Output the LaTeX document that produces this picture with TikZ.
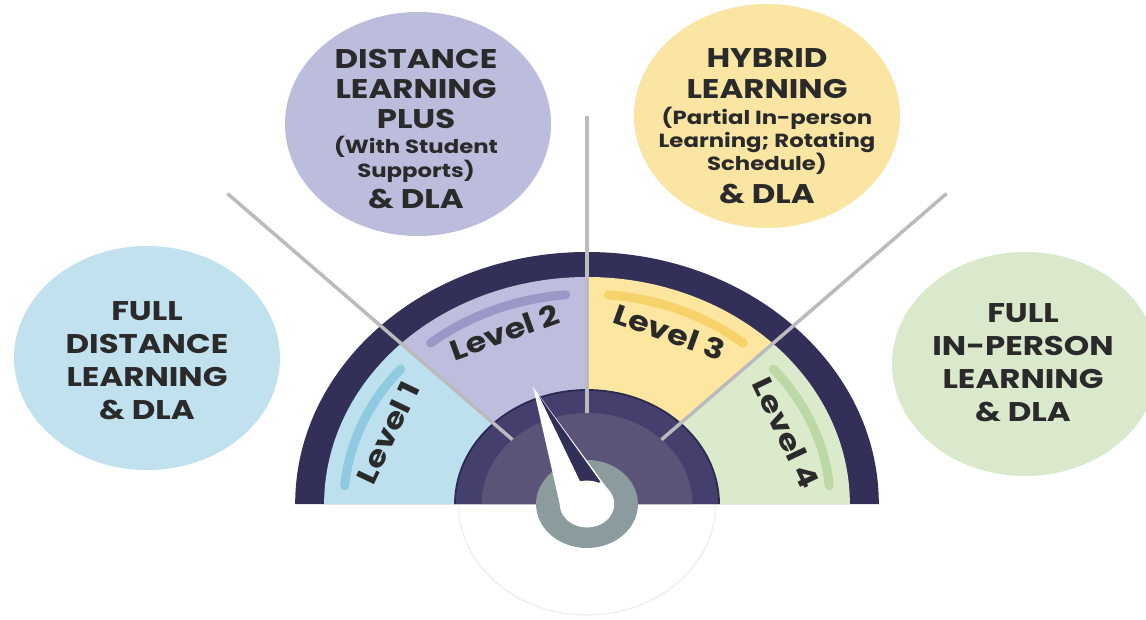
\documentclass[tikz,border=0pt]{standalone}
\usepackage{fontspec}
\setmainfont{Poppins}[FakeStretch=1.2]
\usetikzlibrary{calc}

\definecolor{band}{HTML}{322F59}
\definecolor{rim}{HTML}{443F6C}
\definecolor{rimedge}{HTML}{2C2953}
\definecolor{core}{HTML}{5C5379}
\definecolor{hub}{HTML}{8C9C9E}
\definecolor{linkgray}{HTML}{BBBBBD}
\definecolor{txtdark}{HTML}{2A2A2A}
\definecolor{fill1}{HTML}{BDE0EF}
\definecolor{fill2}{HTML}{BDBDDE}
\definecolor{fill3}{HTML}{FCE6A0}
\definecolor{fill4}{HTML}{DAEACB}
\definecolor{stripe1}{HTML}{8FCAE0}
\definecolor{stripe2}{HTML}{9B98C8}
\definecolor{stripe3}{HTML}{F6D36A}
\definecolor{stripe4}{HTML}{BCD8A5}
\definecolor{bubbleA}{HTML}{C2E1EF}
\definecolor{bubbleB}{HTML}{BCBCDC}
\definecolor{bubbleC}{HTML}{FAE5A2}
\definecolor{bubbleD}{HTML}{DAE9CC}

\newcommand{\bubblebig}{\fontsize{27}{31}\selectfont\bfseries}
\newcommand{\bubblesmall}{\fontsize{19}{22}\selectfont\bfseries}

\begin{document}
\begin{tikzpicture}[x=1pt,y=1pt,
    bubble/.style={font=\bubblebig, text=txtdark, align=center, inner sep=0pt},
    levellabel/.style={font=\fontsize{28}{30}\selectfont\bfseries, text=txtdark},
    link/.style={draw=linkgray, line width=3.5pt}]
  \useasboundingbox[fill=white] (0,0) rectangle (1146,619);

  % the four learning models
  \fill[bubbleA] (147,261) ellipse (133 and 112);
  \fill[bubbleB] (418,495) ellipse (133 and 112);
  \fill[bubbleC] (767,503) ellipse (133 and 112);
  \fill[bubbleD] (1025,255) ellipse (133 and 112);
  \node[bubble] (fulldist) at (147,258) {FULL\\[2pt] DISTANCE\\[2pt] LEARNING\\[2pt] \& DLA};
  \node[bubble] (distplus) at (416,490) {DISTANCE\\[-1pt] LEARNING\\[-1pt] PLUS\\[-6pt]
    {\bubblesmall (With Student}\\[-7pt] {\bubblesmall Supports)}\\[0pt] \& DLA};
  \node[bubble] (hybrid) at (767,493) {HYBRID\\[0pt] LEARNING\\[-5pt]
    {\bubblesmall (Partial In-person}\\[-8pt] {\bubblesmall Learning; Rotating}\\[-8pt]
    {\bubblesmall Schedule)}\\[2pt] \& DLA};
  \node[bubble] (fullinp) at (1023,256) {FULL\\[2pt] IN-PERSON\\[2pt] LEARNING\\[2pt] \& DLA};

  % dial, drawn round its centre and stretched sideways
  \begin{scope}[shift={(587,115)}, xscale=1.158]
    \filldraw[fill=white, draw=black!6, line width=1.5pt] (0,0) circle (111);
    \fill[band] (252,0) arc (0:180:252) -- cycle;
    \foreach \i/\rot in {1/64.5, 2/19.7, 3/-19.7, 4/-64.5} {
      \pgfmathsetmacro{\st}{180-45*\i}
      \fill[fill\i] (0,0) -- (\st:227) arc (\st:\st+45:227) -- cycle;
      \draw[stripe\i, line width=9pt, line cap=round] (\st+5:210) arc (\st+5:\st+40:210);
      \node[levellabel, rotate=\rot] (level\i) at (\st+22.5:186) {Level \i};
    }
    \fill[rim] (114,0) arc (0:180:114) -- cycle;
    \draw[rimedge, line width=1.8pt] (114,0) arc (0:180:114);
    \fill[core] (91,0) arc (0:180:91) -- cycle;
    % pointer lines
    \coordinate (freeL) at (135:439);
    \coordinate (freeM) at (90:388);
    \coordinate (freeR) at (45:439);
    \coordinate (endL) at (135:91);
    \coordinate (endM) at (90:91);
    \coordinate (endR) at (45:91);
    \draw[link] (freeL) -- (endL);
    \draw[link] (freeM) -- (endM);
    \draw[link] (freeR) -- (endR);
    % hub and needle
    \fill[hub] (0,0) circle (44);
    \begin{scope}[rotate=21.7]
      \fill[white] (0,126) -- (-23.5,0) -- (23.5,0) -- cycle;
      \fill[band] (1.5,116) -- (3,16) -- (19,16) -- cycle;
    \end{scope}
    \fill[white] (0,0) circle (23.5);
  \end{scope}
\end{tikzpicture}
\end{document}
